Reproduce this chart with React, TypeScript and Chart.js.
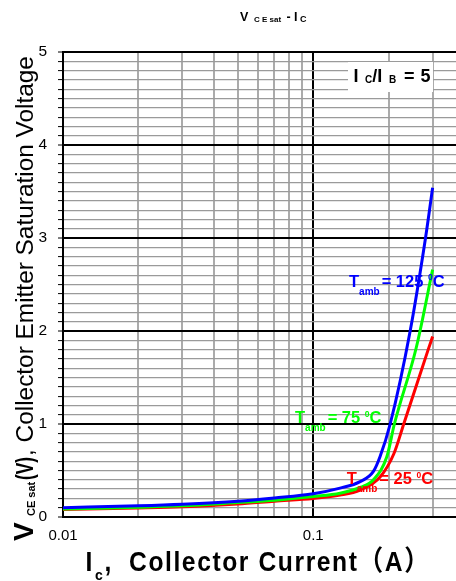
import React, { useEffect, useRef } from 'react';
import { Chart, registerables } from 'chart.js';

Chart.register(...registerables);

// Collector current (A) and VCE(sat) (V)
const ic125 = [0.01, 0.02, 0.03, 0.05, 0.07, 0.1, 0.128, 0.154, 0.174, 0.185, 0.203, 0.244, 0.281, 0.3];
const v125 = [0.10, 0.12, 0.137, 0.17, 0.205, 0.25, 0.31, 0.38, 0.49, 0.65, 1.0, 2.0, 3.0, 3.54];

const ic75 = [0.01, 0.02, 0.03, 0.05, 0.07, 0.1, 0.128, 0.155, 0.174, 0.197, 0.211, 0.258, 0.3];
const v75 = [0.086, 0.105, 0.12, 0.155, 0.18, 0.22, 0.255, 0.32, 0.40, 0.65, 1.0, 1.82, 2.66];

const ic25 = [0.01, 0.02, 0.03, 0.05, 0.07, 0.1, 0.128, 0.154, 0.185, 0.21, 0.23, 0.288, 0.3];
const v25 = [0.08, 0.097, 0.11, 0.14, 0.17, 0.20, 0.235, 0.29, 0.43, 0.68, 1.0, 1.80, 1.94];

const xTickLabels = ['0.01', '0.1'];
const yTickLabels = ['0', '1', '2', '3', '4', '5'];

const seriesNames = ['125', '75', '25'];
const seriesColors = ['#0000ff', '#00ff00', '#ff0000'];

const F = "'Liberation Sans', Arial, sans-serif";
const FCJK = "'Liberation Sans', Arial, 'Noto Sans CJK SC', sans-serif";

type Run = { t: string; font: string; dy?: number; x?: number; gap?: number; sx?: number; ls?: number };

function drawRuns(ctx: CanvasRenderingContext2D, x0: number, y0: number, runs: Run[], color: string) {
  let x = x0;
  ctx.fillStyle = color;
  ctx.textBaseline = 'alphabetic';
  ctx.textAlign = 'left';
  for (const r of runs) {
    if (r.x !== undefined) x = r.x;
    x += r.gap || 0;
    ctx.font = r.font;
    const sx = r.sx || 1;
    (ctx as any).letterSpacing = (r.ls || 0) + 'px';
    const w = ctx.measureText(r.t).width;
    ctx.save();
    ctx.translate(x, y0 + (r.dy || 0));
    ctx.scale(sx, 1);
    ctx.fillText(r.t, 0, 0);
    ctx.restore();
    x += w * sx;
  }
  (ctx as any).letterSpacing = '0px';
}

function tempLabel(ctx: CanvasRenderingContext2D, x: number, y: number, num: string, color: string) {
  drawRuns(ctx, x, y, [
    { t: 'T', font: `bold 16.5px ${F}` },
    { t: 'amb', font: `bold 10px ${F}`, dy: 8 },
    { t: '= ' + num + ' ', font: `bold 16.5px ${F}`, gap: 2 },
    { t: '0', font: `bold 8.5px ${F}`, dy: -6.5 },
    { t: 'C', font: `bold 16.5px ${F}` },
  ], color);
}

const textPlugin = {
  id: 'customTexts',
  afterDraw(chart: any) {
    const ctx: CanvasRenderingContext2D = chart.ctx;
    ctx.save();
    // Title
    drawRuns(ctx, 0, 20.5, [
      { t: 'V', font: `bold 12.5px ${F}`, x: 240 },
      { t: 'C E sat', font: `bold 8px ${F}`, x: 254, dy: 1 },
      { t: '-', font: `bold 12.5px ${F}`, x: 286.5 },
      { t: 'I', font: `bold 12.5px ${F}`, x: 294 },
      { t: 'C', font: `bold 9px ${F}`, x: 300, dy: 1 },
    ], '#000');

    // Ic/Ib box
    ctx.fillStyle = '#fff';
    ctx.fillRect(348, 62, 85, 30);
    drawRuns(ctx, 353.5, 82, [
      { t: 'I', font: `bold 18px ${F}` },
      { t: 'C', font: `bold 10px ${F}`, x: 365, dy: 1 },
      { t: '/I', font: `bold 18px ${F}` },
      { t: 'B', font: `bold 10px ${F}`, x: 389, dy: 1 },
      { t: '=', font: `bold 18px ${F}`, x: 404 },
      { t: '5', font: `bold 18px ${F}`, x: 420.5 },
    ], '#000');

    // Temperature labels
    tempLabel(ctx, 349, 286.5, seriesNames[0], seriesColors[0]);
    tempLabel(ctx, 295, 423.3, seriesNames[1], seriesColors[1]);
    tempLabel(ctx, 346.7, 484.3, seriesNames[2], seriesColors[2]);

    // Y axis title (rotated)
    ctx.save();
    ctx.translate(33, 541);
    ctx.rotate(-Math.PI / 2);
    drawRuns(ctx, 0, 0, [
      { t: 'V', font: `bold 28px ${F}`, x: 0 },
      { t: 'CE sat', font: `bold 11px ${F}`, x: 25, dy: 1.5 },
      { t: '(V)', font: `bold 24px ${F}`, x: 61, sx: 0.72 },
      { t: ', Collector Emitter Saturation Voltage', font: `24.4px ${F}`, x: 85 },
    ], '#000');
    ctx.restore();

    // X axis title
    drawRuns(ctx, 0, 571, [
      { t: 'I', font: `bold 28px ${F}`, x: 85.5, sx: 0.88 },
      { t: 'c', font: `bold 14px ${F}`, x: 95, dy: 8.5 },
      { t: ',', font: `bold 28px ${F}`, x: 104.5, sx: 0.88 },
      { t: 'Collector Current（A）', font: `bold 28px ${FCJK}`, x: 129, sx: 0.88, ls: 1.8 },
    ], '#000');
    ctx.restore();
  },
};

function isNear(a: number, b: number) {
  return Math.abs(a - b) < 1e-6;
}

function xKind(v: number): 'major' | 'minor' | 'none' {
  if (!v || v <= 0) return 'none';
  const l = Math.log10(v);
  if (Math.abs(l - Math.round(l)) < 1e-6) return 'major';
  const m = v / Math.pow(10, Math.floor(l));
  if (Math.abs(m - Math.round(m)) < 1e-4) return 'minor';
  return 'none';
}

function yMajor(v: number) {
  return Math.abs(v - Math.round(v)) < 1e-6;
}

export default function App() {
  const ref = useRef<HTMLCanvasElement | null>(null);

  useEffect(() => {
    if (!ref.current) return;
    const mk = (xs: number[], ys: number[]) => xs.map((x, i) => ({ x, y: ys[i] }));
    const chart = new Chart(ref.current, {
      type: 'line',
      data: {
        datasets: [
          { label: seriesNames[0], data: mk(ic125, v125), borderColor: seriesColors[0] },
          { label: seriesNames[1], data: mk(ic75, v75), borderColor: seriesColors[1] },
          { label: seriesNames[2], data: mk(ic25, v25), borderColor: seriesColors[2] },
        ].map((d) => ({
          ...d,
          borderWidth: 3,
          pointRadius: 0,
          fill: false,
          cubicInterpolationMode: 'monotone' as const,
        })),
      },
      options: {
        responsive: false,
        animation: false,
        events: [],
        layout: { padding: { top: 52, left: 0, right: 0, bottom: 0 } },
        plugins: {
          legend: { display: false },
          title: { display: false },
          tooltip: { enabled: false },
        },
        scales: {
          x: {
            type: 'logarithmic',
            min: 0.01,
            max: 0.372,
            afterFit: (s: any) => {
              s.height = 64;
              s.paddingLeft = 0;
              s.paddingRight = 0;
            },
            border: { display: true, color: '#000', width: 2 },
            grid: {
              drawTicks: false,
              color: (c: any) => {
                const k = xKind(c.tick ? c.tick.value : 0);
                return k === 'major' ? '#000' : k === 'minor' ? '#ababab' : 'rgba(0,0,0,0)';
              },
              lineWidth: 2,
            },
            ticks: {
              autoSkip: false,
              maxRotation: 0,
              minRotation: 0,
              padding: 10,
              color: '#000',
              font: { family: F, size: 15 },
              callback: (v: any) => {
                const n = Number(v);
                if (isNear(n, 0.01)) return xTickLabels[0];
                if (isNear(n, 0.1)) return xTickLabels[1];
                return '';
              },
            },
          },
          y: {
            type: 'linear',
            min: 0,
            max: 5,
            afterFit: (s: any) => {
              s.width = 63;
              s.paddingTop = 0;
              s.paddingBottom = 0;
            },
            border: { display: true, color: '#000', width: 2 },
            grid: {
              drawTicks: true,
              tickLength: 5,
              tickColor: '#000',
              tickWidth: 1,
              color: (c: any) => (c.tick && yMajor(c.tick.value) ? '#000' : '#9a9a9a'),
              lineWidth: (c: any) => (c.tick && yMajor(c.tick.value) ? 2 : 1.2),
            },
            ticks: {
              stepSize: 0.1,
              autoSkip: false,
              maxTicksLimit: 100,
              padding: 11,
              color: '#000',
              font: { family: F, size: 15.5 },
              callback: (v: any) => {
                const n = Number(v);
                if (yMajor(n)) return yTickLabels[Math.round(n)];
                return '';
              },
            },
          },
        },
      },
      plugins: [textPlugin],
    } as any);
    return () => chart.destroy();
  }, []);

  return (
    <div style={{ position: 'fixed', left: 0, top: 0, width: 456, height: 581, background: '#fff' }}>
      <canvas ref={ref} width={456} height={581} style={{ display: 'block' }} />
    </div>
  );
}
